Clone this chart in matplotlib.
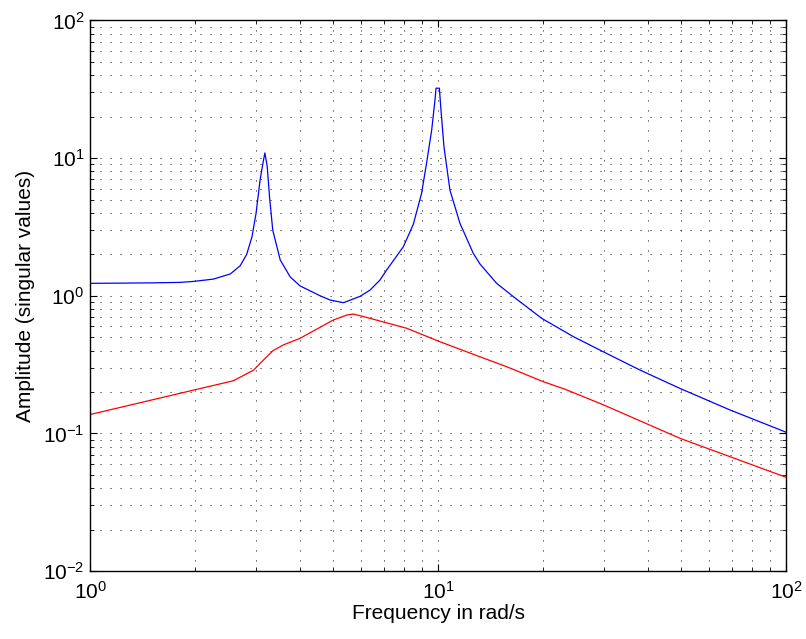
import numpy as np
import matplotlib
matplotlib.use('Agg')
import matplotlib.pyplot as plt
from matplotlib.ticker import LogLocator, NullFormatter

plt.rcParams['font.family'] = ['Liberation Sans', 'DejaVu Sans']
plt.rcParams['mathtext.default'] = 'regular'
plt.rcParams['lines.scale_dashes'] = False

# values (log-log)
w_max = [1, 1.5, 1.814, 1.98, 2.26, 2.53, 2.70, 2.82, 2.92, 3.0, 3.08, 3.14, 3.18,
         3.23, 3.28, 3.35, 3.52, 3.76, 4.01, 4.58, 4.9, 5.35, 5.97, 6.38, 6.81,
         7.12, 7.95, 8.49, 8.97, 9.27, 9.59, 9.80, 9.87, 10.09, 10.18, 10.40,
         10.82, 11.56, 12.63, 13.2, 14.74, 16.5, 19.86, 24.5, 30.5, 38.1, 49.6,
         69, 100]
sv_max = [1.23, 1.24, 1.25, 1.27, 1.32, 1.44, 1.65, 2.0, 2.68, 3.97, 6.9, 9.2, 10.9,
          8.7, 5.2, 3.0, 1.82, 1.37, 1.18, 1.0, 0.93, 0.89, 0.99, 1.10, 1.30,
          1.54, 2.27, 3.3, 5.55, 9.2, 16.0, 26.4, 32.2, 32.2, 23.6, 12.1,
          5.86, 3.36, 2.03, 1.70, 1.23, 0.98, 0.685, 0.504, 0.381, 0.288, 0.212,
          0.148, 0.102]

w_min = [1, 1.98, 2.58, 2.95, 3.15, 3.36, 3.6, 4.01, 5.0, 5.47, 5.71, 5.97, 6.81,
         8.13, 10.13, 13.2, 15.75, 20.1, 23.2, 29.9, 49.6, 100]
sv_min = [0.137, 0.206, 0.241, 0.288, 0.341, 0.40, 0.44, 0.49, 0.666, 0.724,
          0.736, 0.716, 0.655, 0.58, 0.463, 0.36, 0.305, 0.237, 0.209, 0.161,
          0.092, 0.048]

fig = plt.figure(figsize=(8.06, 6.39), dpi=100)
ax = fig.add_axes([0.1117, 0.1064, 0.8635, 0.8616])

ax.loglog(w_max, sv_max, color='#0000ff', lw=0.9)
ax.loglog(w_min, sv_min, color='#ff0000', lw=0.9)

ax.set_xlim(1, 100)
ax.set_ylim(1e-2, 1e2)
ax.xaxis.set_major_locator(LogLocator(base=10, numticks=10))
ax.yaxis.set_major_locator(LogLocator(base=10, numticks=10))
ax.xaxis.set_minor_locator(LogLocator(base=10, subs=np.arange(2, 10), numticks=20))
ax.yaxis.set_minor_locator(LogLocator(base=10, subs=np.arange(2, 10), numticks=20))
ax.xaxis.set_minor_formatter(NullFormatter())
ax.yaxis.set_minor_formatter(NullFormatter())

# matlab style dotted grid
ax.grid(True, which='both', color='k', lw=0.6, linestyle=(0, (0.8, 6.4)))
ax.set_axisbelow(True)

ax.tick_params(which='both', direction='in', top=True, right=True, labelsize=15)
ax.tick_params(which='major', length=5, width=0.8)
ax.tick_params(which='minor', length=3, width=0.6)
ax.tick_params(axis='x', pad=7)
ax.tick_params(axis='y', pad=4)
for s in ax.spines.values():
    s.set_linewidth(1.0)

ax.set_xlabel('Frequency in rad/s', fontsize=15, labelpad=1)
ax.set_ylabel('Amplitude (singular values)', fontsize=15, labelpad=6)

fig.savefig('out.png', dpi=100)
